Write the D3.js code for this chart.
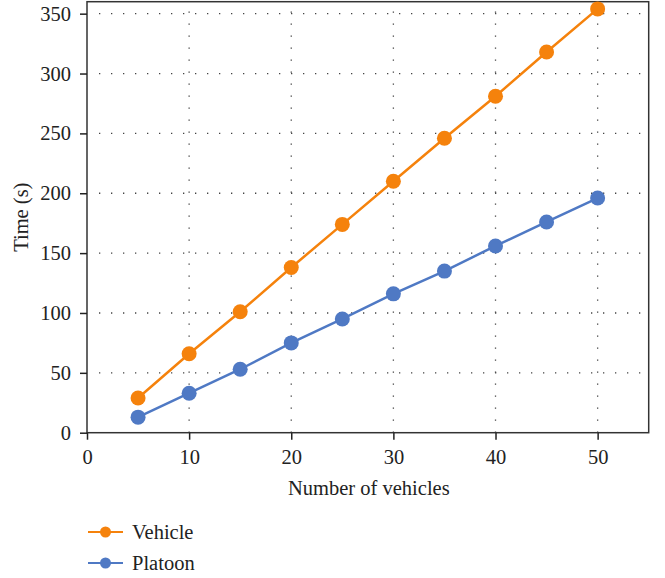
<!DOCTYPE html>
<html>
<head>
<meta charset="utf-8">
<script src="https://cdn.jsdelivr.net/npm/d3@7"></script>
<style>
  body { margin: 0; background: #fff; }
  svg { display: block; font-family: "Liberation Serif", "DejaVu Serif", serif; }
</style>
</head>
<body>
<svg id="chart" width="665" height="578"></svg>
<script>
// Number of vehicles on the x axis
const vehicles = [5, 10, 15, 20, 25, 30, 35, 40, 45, 50];
// Processing time (s) per strategy
const vehicleTime = [29, 66, 101, 138, 174, 210, 246, 281, 318, 354];
const platoonTime = [13, 33, 53, 75, 95, 116, 135, 156, 176, 196];
const xTicks = [0, 10, 20, 30, 40, 50];
const yTicks = [0, 50, 100, 150, 200, 250, 300, 350];
const seriesNames = ["Vehicle", "Platoon"];
const seriesColors = ["#f5820c", "#4f79c4"];

const FONT = "'Liberation Serif', serif";
const FS = "20.5px";

const svg = d3.select("#chart");
const m = { left: 87, top: 1.7, right: 648.7, bottom: 432.7 };

const x = d3.scaleLinear().domain([0, 55]).range([m.left, m.right]);
const y = d3.scaleLinear().domain([0, 360]).range([m.bottom, m.top]);

// dotted grid at each tick
const grid = svg.append("g").attr("stroke", "#444").attr("stroke-width", 1.3)
  .attr("stroke-dasharray", "1.3,10.7");
yTicks.filter(d => d > 0).forEach(d => {
  grid.append("line").attr("x1", m.left + 12).attr("x2", m.right)
    .attr("y1", y(d)).attr("y2", y(d));
});
xTicks.filter(d => d > 0).forEach(d => {
  grid.append("line").attr("x1", x(d)).attr("x2", x(d))
    .attr("y1", m.bottom).attr("y2", m.top);
});

// frame
svg.append("rect").attr("x", m.left).attr("y", m.top)
  .attr("width", m.right - m.left).attr("height", m.bottom - m.top)
  .attr("fill", "none").attr("stroke", "#333").attr("stroke-width", 1.5);

// axes
const xAxis = svg.append("g").attr("transform", `translate(0,${m.bottom})`)
  .call(d3.axisBottom(x).tickValues(xTicks).tickSize(7).tickPadding(10));
const yAxis = svg.append("g").attr("transform", `translate(${m.left},0)`)
  .call(d3.axisLeft(y).tickValues(yTicks).tickSize(7).tickPadding(9));
[xAxis, yAxis].forEach(a => {
  a.select(".domain").remove();
  a.selectAll("line").attr("stroke", "#222").attr("stroke-width", 1.5);
  a.selectAll("text").attr("fill", "#222").style("font-size", FS)
    .style("font-family", FONT);
});

// axis titles
svg.append("text").attr("x", (m.left + m.right) / 2 + 1).attr("y", 495)
  .attr("text-anchor", "middle").attr("fill", "#222").style("font-size", FS)
  .text("Number of vehicles");
svg.append("text").attr("transform", `translate(28,${(m.top + m.bottom) / 2}) rotate(-90)`)
  .attr("text-anchor", "middle").attr("fill", "#222").style("font-size", FS)
  .text("Time (s)");

// series
const series = [vehicleTime, platoonTime];
const line = d3.line().x((d, i) => x(vehicles[i])).y(d => y(d));
series.forEach((vals, s) => {
  const g = svg.append("g");
  g.append("path").datum(vals).attr("d", line).attr("fill", "none")
    .attr("stroke", seriesColors[s]).attr("stroke-width", 2.5);
  g.selectAll("circle").data(vals).join("circle")
    .attr("cx", (d, i) => x(vehicles[i])).attr("cy", d => y(d)).attr("r", 7.5)
    .attr("fill", seriesColors[s]);
});

// legend
const legend = svg.append("g");
seriesNames.forEach((name, s) => {
  const ly = 532 + s * 31;
  legend.append("line").attr("x1", 88).attr("x2", 123).attr("y1", ly).attr("y2", ly)
    .attr("stroke", seriesColors[s]).attr("stroke-width", 2);
  legend.append("circle").attr("cx", 105.5).attr("cy", ly).attr("r", 5.5)
    .attr("fill", seriesColors[s]);
  legend.append("text").attr("x", 132).attr("y", ly + 7).attr("fill", "#222")
    .style("font-size", FS).text(name);
});
</script>
</body>
</html>
